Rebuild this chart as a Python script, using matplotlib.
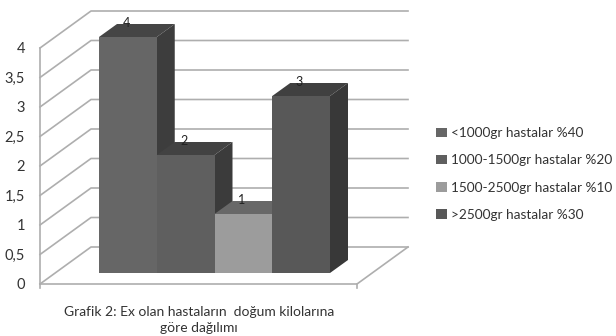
import matplotlib
matplotlib.use('Agg')
import matplotlib.pyplot as plt
from matplotlib.patches import Patch

# Chart values.
categories = ['<1000gr hastalar %40', '1000-1500gr hastalar %20',
              '1500-2500gr hastalar %10', '>2500gr hastalar %30']
values = [4, 2, 1, 3]
tickValues = [0, 0.5, 1, 1.5, 2, 2.5, 3, 3.5, 4]
tickLabels = ['0', '0,5', '1', '1,5', '2', '2,5', '3', '3,5', '4']
captionLines = 'Grafik 2: Ex olan hastaların  doğum kilolarına\ngöre dağılımı'

frontColors = ['#666666', '#5f5f5f', '#9c9c9c', '#585858']
sideColors = ['#3d3d3d', '#3b3b3b', '#5a5a5a', '#383838']
topColors = ['#454545', '#424242', '#686868', '#404040']
gridColor = '#aeaeae'
textColor = '#333333'

plt.rcParams['font.family'] = ['Lato', 'DejaVu Sans']

# Scale of the axes: one category wide, one value unit high.
catWidth = 57.75
unitHeight = 59.0
barLeft = 99.0
barBase = 273.0
W, H = 616, 336

fig = plt.figure(figsize=(W / 100, H / 100), dpi=100)
ax = fig.add_axes([0, 0, 1, 1])
ax.set_xlim(-barLeft / catWidth, (W - barLeft) / catWidth)
ax.set_ylim((barBase - H) / unitHeight, barBase / unitHeight)
ax.axis('off')

# Offsets of the chart box, in axes units.
wallDx = 51 / catWidth
wallDy = 37 / unitHeight
floorX0 = (40 - barLeft) / catWidth
floorX1 = (357 - barLeft) / catWidth
floorY = (barBase - 284) / unitHeight
barDx = 18 / catWidth
barDy = 13 / unitHeight

# Back wall lines and side wall diagonals.
for v in tickValues:
  y = floorY + v
  ax.plot([floorX0, floorX0 + wallDx, floorX1 + wallDx], [y, y + wallDy, y + wallDy],
          color=gridColor, linewidth=1.2, zorder=1)

# Axis lines and floor.
ax.plot([floorX0, floorX0], [floorY, floorY + max(tickValues)], color=gridColor, linewidth=1.2, zorder=1)
ax.plot([floorX0, floorX1, floorX1 + wallDx], [floorY, floorY, floorY + wallDy],
        color=gridColor, linewidth=1.2, zorder=1)
for x in [floorX0, floorX1]:
  ax.plot([x, x], [floorY, floorY - 4 / unitHeight], color=gridColor, linewidth=1.2, zorder=1)

# Tick labels.
for v, lab in zip(tickValues, tickLabels):
  ax.text(floorX0 - 15 / catWidth, floorY + v - 1 / unitHeight, lab, ha='right', va='center',
          fontsize=10.5, color=textColor)

# Bars, left to right so each one covers the side of the previous.
for i, v in enumerate(values):
  z = 2 + i
  ax.fill([i, i + barDx, i + 1 + barDx, i + 1], [v, v + barDy, v + barDy, v],
          color=topColors[i], linewidth=0, zorder=z)
  ax.fill([i + 1, i + 1 + barDx, i + 1 + barDx, i + 1], [0, barDy, v + barDy, v],
          color=sideColors[i], linewidth=0, zorder=z)
  ax.fill([i, i + 1, i + 1, i], [0, 0, v, v], color=frontColors[i], linewidth=0, zorder=z)
  ax.text(i + 0.47, v + 14 / unitHeight, str(v), ha='center', va='center',
          fontsize=9, color='#222222', zorder=10)

# Caption below the chart.
ax.text(199 / catWidth - barLeft / catWidth, (barBase - 320.5) / unitHeight, captionLines,
        ha='center', va='center', fontsize=10, color=textColor, linespacing=1.4)

# Legend.
handles = [Patch(facecolor=c, edgecolor='none') for c in frontColors]
ax.legend(handles, categories, loc='center left', bbox_to_anchor=(436 / W, 1 - 174 / H),
          frameon=False, fontsize=9.8, labelcolor=textColor, handlelength=0.8, handleheight=0.7,
          handletextpad=0.3, labelspacing=1.12, borderpad=0, borderaxespad=0)

fig.savefig('out.png', dpi=100)
